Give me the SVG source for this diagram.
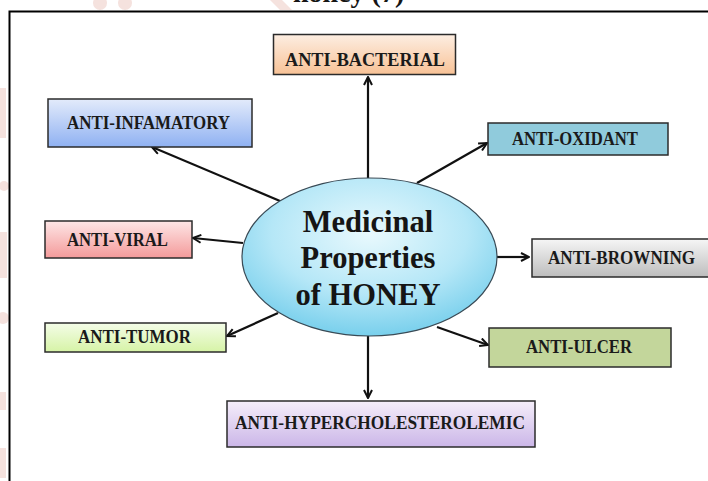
<svg xmlns="http://www.w3.org/2000/svg" width="708" height="481" viewBox="0 0 708 481">
<style>
  .box { stroke: #2b2b2b; stroke-width: 1.5; }
  .lbl { font-family: "Liberation Serif", "Times New Roman", serif; font-weight: bold; font-size: 18.5px; fill: #1a1a1a; text-anchor: middle; }
  .main { font-family: "Liberation Serif", "Times New Roman", serif; font-weight: bold; font-size: 30.5px; fill: #151515; text-anchor: middle; }
  .conn { stroke: #111; stroke-width: 2.2; fill: none; marker-end: url(#arr); }
  .wm { fill: #f5e2de; }
</style>
<defs>
  <marker id="arr" viewBox="0 0 10 10" refX="9" refY="5" markerWidth="10" markerHeight="10" markerUnits="userSpaceOnUse" orient="auto">
    <path d="M1,1 L9,5 L1,9" fill="none" stroke="#111" stroke-width="2"/>
  </marker>
  <linearGradient id="gOrange" x1="0" y1="0" x2="0" y2="1"><stop offset="0" stop-color="#fdeee2"/><stop offset="1" stop-color="#f8c296"/></linearGradient>
  <linearGradient id="gBlue" x1="0" y1="0" x2="0" y2="1"><stop offset="0" stop-color="#e3ebfb"/><stop offset="1" stop-color="#8fb1f2"/></linearGradient>
  <linearGradient id="gPink" x1="0" y1="0" x2="0" y2="1"><stop offset="0" stop-color="#fde6e6"/><stop offset="1" stop-color="#f49a9a"/></linearGradient>
  <linearGradient id="gGreen" x1="0" y1="0" x2="0" y2="1"><stop offset="0" stop-color="#f4fde8"/><stop offset="1" stop-color="#d6f3a6"/></linearGradient>
  <linearGradient id="gLav" x1="0" y1="0" x2="0" y2="1"><stop offset="0" stop-color="#f5eefa"/><stop offset="1" stop-color="#cbb6e8"/></linearGradient>
  <linearGradient id="gGrey" x1="0" y1="0" x2="0" y2="1"><stop offset="0" stop-color="#f6f6f6"/><stop offset="1" stop-color="#bdbdbd"/></linearGradient>
  <radialGradient id="gEll" cx="0.5" cy="0.35" r="0.7"><stop offset="0" stop-color="#e9f9fd"/><stop offset="0.55" stop-color="#b5e7f7"/><stop offset="1" stop-color="#6dcbea"/></radialGradient>
</defs>
<rect x="0" y="0" width="708" height="481" fill="#ffffff"/>
<g id="watermark">
  <rect class="wm" x="0" y="88" width="6" height="50"/>
  <rect class="wm" x="0" y="232" width="7" height="46"/>
  <rect class="wm" x="0" y="392" width="6" height="18"/>
  <rect class="wm" x="0" y="448" width="6" height="30"/>
  <circle class="wm" cx="4" cy="186" r="5"/>
  <circle class="wm" cx="3" cy="318" r="6"/>
  <path class="wm" d="M270,0 L282,0 L292,10 L280,10 Z"/>
  <circle class="wm" cx="100" cy="3" r="7"/>
  <circle class="wm" cx="125" cy="3" r="7"/>
</g>
<text x="293" y="2" class="main" style="font-size:28px;text-anchor:start" fill="#111">honey (7)</text>
<rect x="9.5" y="11.5" width="720" height="500" fill="none" stroke="#000" stroke-width="2"/>
<g id="connectors">
  <line class="conn" x1="368" y1="178" x2="368" y2="77"/>
  <line class="conn" x1="280" y1="201" x2="152" y2="147"/>
  <line class="conn" x1="417" y1="183" x2="487" y2="143"/>
  <line class="conn" x1="243" y1="243" x2="193" y2="238"/>
  <line class="conn" x1="278" y1="313" x2="227" y2="336"/>
  <line class="conn" x1="368" y1="336" x2="368" y2="398"/>
  <line class="conn" x1="497" y1="257" x2="529" y2="257"/>
  <line class="conn" x1="437" y1="327" x2="488" y2="345"/>
</g>
<g id="center">
  <ellipse cx="369.5" cy="257" rx="127.5" ry="79" fill="url(#gEll)" stroke="#3a4a55" stroke-width="1.2"/>
  <text class="main" x="368" y="232">Medicinal</text>
  <text class="main" x="368" y="268">Properties</text>
  <text class="main" x="368" y="305">of HONEY</text>
</g>
<g id="anti-bacterial">
  <rect class="box" x="273.5" y="34.5" width="182" height="40" fill="url(#gOrange)"/>
  <text class="lbl" x="365" y="66" textLength="160" lengthAdjust="spacingAndGlyphs">ANTI-BACTERIAL</text>
</g>
<g id="anti-infamatory">
  <rect class="box" x="48" y="99" width="204" height="48" fill="url(#gBlue)"/>
  <text class="lbl" x="148.5" y="129" textLength="163" lengthAdjust="spacingAndGlyphs">ANTI-INFAMATORY</text>
</g>
<g id="anti-oxidant">
  <rect class="box" x="488" y="123" width="180" height="32" fill="#90cbdc"/>
  <text class="lbl" x="575" y="145" textLength="126" lengthAdjust="spacingAndGlyphs">ANTI-OXIDANT</text>
</g>
<g id="anti-viral">
  <rect class="box" x="45" y="221" width="147" height="37" fill="url(#gPink)"/>
  <text class="lbl" x="117.5" y="246" textLength="101" lengthAdjust="spacingAndGlyphs">ANTI-VIRAL</text>
</g>
<g id="anti-browning">
  <rect class="box" x="532" y="239" width="190" height="38" fill="url(#gGrey)"/>
  <text class="lbl" x="621.5" y="264" textLength="147" lengthAdjust="spacingAndGlyphs">ANTI-BROWNING</text>
</g>
<g id="anti-tumor">
  <rect class="box" x="45" y="323" width="181" height="29" fill="url(#gGreen)"/>
  <text class="lbl" x="134.5" y="343" textLength="113" lengthAdjust="spacingAndGlyphs">ANTI-TUMOR</text>
</g>
<g id="anti-ulcer">
  <rect class="box" x="489" y="328" width="182" height="39" fill="#c3d69b"/>
  <text class="lbl" x="579" y="353" textLength="106" lengthAdjust="spacingAndGlyphs">ANTI-ULCER</text>
</g>
<g id="anti-hypercholesterolemic">
  <rect class="box" x="227" y="401" width="308" height="46" fill="url(#gLav)"/>
  <text class="lbl" x="380" y="429" textLength="290" lengthAdjust="spacingAndGlyphs">ANTI-HYPERCHOLESTEROLEMIC</text>
</g>
</svg>
